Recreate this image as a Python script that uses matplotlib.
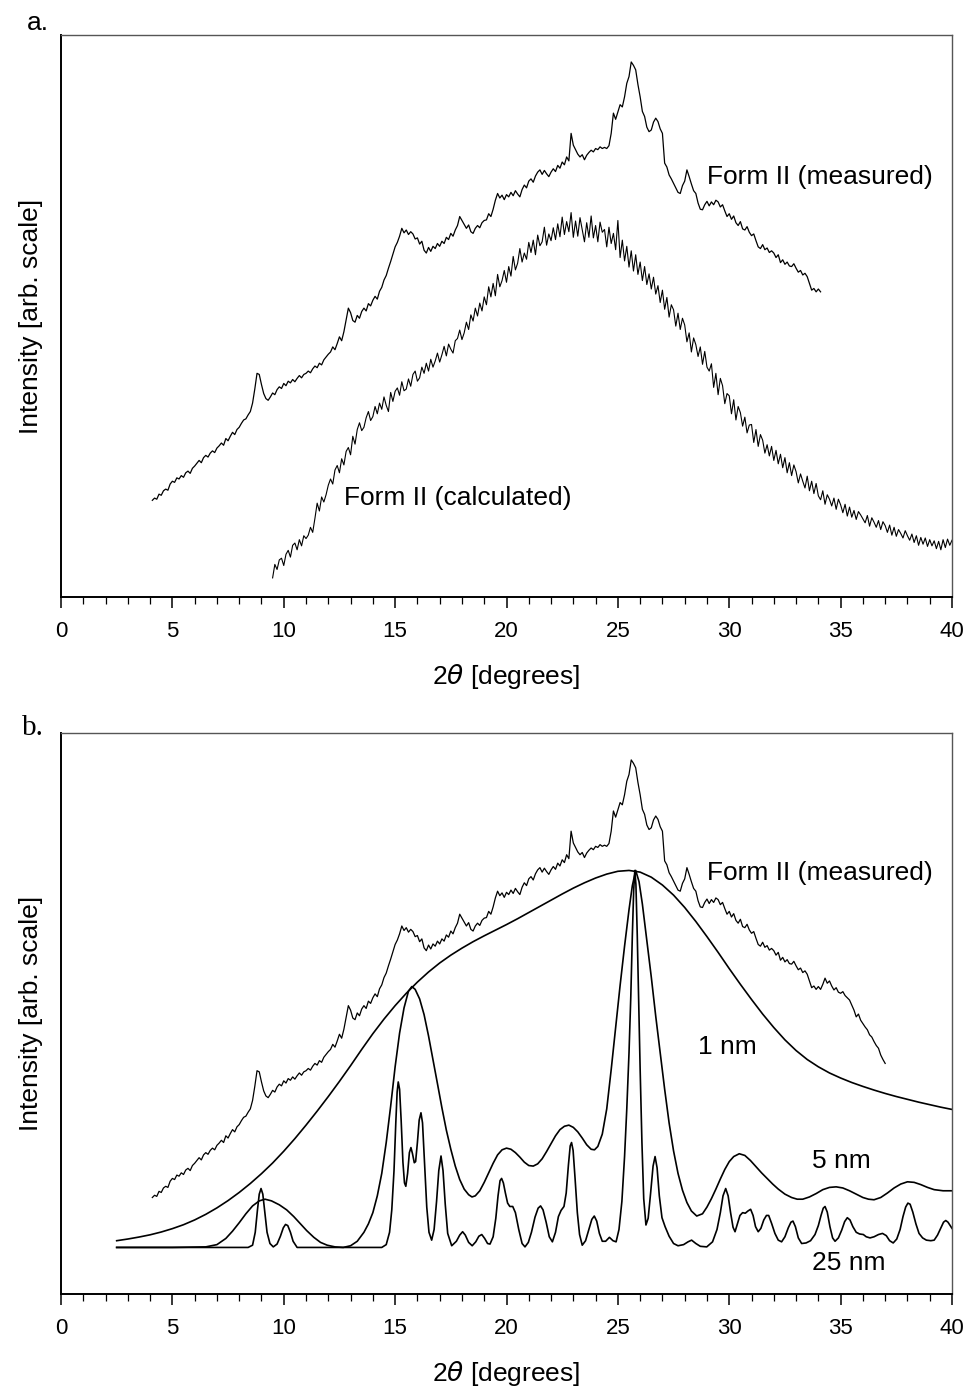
import numpy as np
import matplotlib.pyplot as plt

# 2-theta scan grids (0.1 degree steps)
theta_meas = np.round(np.arange(41, 371) / 10, 1)      # 4.1 .. 37.0
theta_calc = np.round(np.arange(95, 401) / 10, 1)      # 9.5 .. 40.0

# Form II measured pattern, arbitrary units (0 = axis, 100 = top of frame)
meas = [
    17.2, 17.6, 17.4, 18.3, 18.1, 18.9, 19.2, 19.0, 20.1, 20.6,
    20.4, 21.2, 21.0, 21.6, 21.3, 22.1, 22.4, 22.0, 22.9, 23.3,
    23.8, 24.3, 23.9, 24.8, 25.2, 24.9, 25.6, 26.0, 25.7, 26.5,
    26.9, 27.4, 27.0, 28.2, 27.8, 28.6, 29.3, 28.9, 29.8, 30.2,
    30.9, 31.5, 31.7, 32.4, 33.0, 34.5, 37.0, 39.8, 39.6, 37.8,
    36.2, 35.3, 35.0, 35.6, 36.3, 36.0, 36.9, 37.4, 37.1, 38.0,
    37.6, 38.4, 38.1, 38.7, 38.3, 38.9, 39.4, 39.0, 39.6, 39.8,
    40.2, 39.9, 40.6, 41.1, 40.8, 41.6, 41.3, 42.2, 42.7, 43.2,
    43.6, 44.5, 44.0, 45.1, 46.3, 45.6, 47.2, 49.3, 51.4, 50.6,
    49.2, 48.9, 50.1, 49.6, 50.8, 51.4, 50.9, 52.2, 51.8, 52.8,
    53.5, 53.0, 54.4, 55.1, 56.4, 57.2, 58.5, 59.7, 61.0, 62.3,
    63.1, 64.2, 65.6, 64.8, 65.3, 64.5, 65.0, 64.6, 63.7, 63.9,
    62.8, 63.3, 61.7, 61.2, 62.2, 61.5, 62.4, 62.0, 62.9, 62.4,
    63.3, 62.9, 64.0, 63.6, 64.7, 64.2, 65.3, 66.1, 67.7, 67.0,
    66.3, 65.6, 66.2, 65.0, 64.7, 65.6, 66.1, 65.7, 66.6, 67.0,
    67.1, 68.2, 67.7, 69.0, 70.6, 71.8, 71.0, 71.5, 70.7, 71.6,
    71.2, 72.0, 71.4, 72.3, 71.7, 71.2, 72.5, 73.3, 72.8, 74.0,
    74.4, 73.8, 74.9, 75.6, 76.0, 75.2, 75.9, 75.3, 74.8, 75.6,
    76.2, 75.7, 76.8, 76.3, 77.4, 76.9, 78.3, 77.6, 82.5, 80.4,
    79.6, 78.8, 78.3, 78.7, 77.8, 78.6, 79.1, 79.5, 79.2, 79.8,
    79.6, 80.1, 79.8, 80.0, 79.8, 80.3, 82.5, 86.1, 85.0, 86.3,
    87.6, 87.2, 89.0, 91.4, 92.6, 95.2, 94.6, 93.8, 91.2, 89.0,
    86.4, 85.5, 83.6, 82.8, 83.1, 84.5, 85.2, 84.6, 83.3, 82.5,
    77.2, 76.5, 75.1, 74.4, 73.6, 72.8, 72.0, 71.8, 73.2, 74.0,
    76.0, 74.8, 73.5, 72.3, 71.8, 70.1, 69.0, 68.9, 69.8, 70.4,
    69.6, 70.3, 69.8, 70.6, 70.3, 69.4, 69.8, 68.7, 67.7, 68.2,
    67.2, 67.8, 66.6, 66.1, 66.8, 65.5, 65.3, 65.9, 64.9, 64.3,
    64.6, 63.4, 62.3, 62.0, 62.7, 61.8, 62.1, 61.3, 61.6, 61.2,
    60.4, 60.9, 59.5, 60.0, 59.2, 59.6, 58.9, 58.8, 59.3, 58.5,
    57.8, 58.1, 57.3, 57.6, 57.0, 55.8, 54.6, 54.9, 54.3, 54.8,
    54.3, 55.2, 56.3, 55.4, 55.8, 54.9, 54.2, 54.6, 53.8, 53.6,
    53.9, 53.2, 52.8, 52.4, 51.5, 50.6, 49.4, 49.9, 48.8, 48.2,
    47.6, 47.1, 46.2, 45.8, 45.0, 44.3, 43.8, 42.6, 41.8, 41.1,
]

# Form II calculated pattern
calc = [
    3.4, 5.8, 4.9, 6.6, 6.9, 5.6,
    7.6, 8.3, 7.1, 9.2, 9.6, 8.4, 10.2, 9.1, 10.9, 10.4,
    11.0, 12.4, 11.5, 14.0, 16.7, 15.3, 17.8, 16.9, 18.2, 19.9,
    21.0, 20.1, 22.6, 23.4, 22.1, 24.6, 23.5, 25.9, 26.6, 25.3,
    28.6, 27.2, 29.8, 31.0, 29.6, 30.2, 31.9, 33.0, 31.4, 32.1,
    33.9, 32.6, 34.5, 33.4, 35.6, 34.1, 33.0, 36.4, 34.8, 36.6,
    37.2, 35.9, 38.3, 36.7, 37.0, 38.8, 37.5, 39.6, 40.2, 38.4,
    39.0, 40.9, 39.8, 41.6, 40.2, 42.3, 40.9, 42.0, 43.4, 41.8,
    43.1, 44.6, 42.9, 45.0, 44.1, 43.4, 45.6, 46.0, 47.5, 45.8,
    47.0, 48.9, 47.6, 50.2, 49.1, 51.4, 50.0, 52.3, 50.9, 53.4,
    52.0, 55.2, 53.4, 55.8, 53.6, 57.4, 55.2, 56.3, 58.1, 56.0,
    58.8, 57.1, 60.6, 58.2, 59.4, 62.0, 59.6, 61.2, 60.1, 63.1,
    61.3, 63.5, 60.9, 64.4, 62.5, 63.2, 65.8, 62.6, 64.6, 63.4,
    65.7, 63.6, 66.4, 64.1, 67.6, 64.5, 66.8, 65.0, 68.4, 64.0,
    66.9, 64.2, 67.5, 65.3, 63.2, 66.6, 64.0, 67.8, 63.9, 66.1,
    63.2, 66.7, 64.9, 65.4, 62.3, 65.8, 62.9, 64.7, 61.8, 67.0,
    60.4, 63.5, 59.8, 62.4, 58.7, 61.6, 58.0, 60.9, 57.4, 59.6,
    56.3, 58.8, 55.6, 57.5, 54.8, 56.9, 53.9, 55.4, 52.4, 54.6,
    51.2, 53.3, 49.8, 52.0, 51.1, 48.2, 50.5, 47.6, 49.6, 48.4,
    45.4, 47.0, 43.6, 46.1, 44.9, 42.8, 44.5, 41.4, 43.7, 40.9,
    40.2, 41.5, 37.3, 39.8, 36.0, 38.9, 37.6, 34.4, 36.2, 35.8,
    32.6, 35.1, 31.5, 33.9, 32.8, 30.4, 32.0, 29.2, 30.6, 30.7,
    27.5, 29.8, 26.8, 28.9, 27.9, 25.6, 27.1, 25.1, 26.8, 24.3,
    26.1, 23.7, 25.4, 23.0, 24.8, 22.1, 23.9, 21.6, 23.5, 22.3,
    20.3, 21.9, 20.6, 19.4, 21.5, 18.9, 20.6, 18.4, 20.2, 18.0,
    17.3, 18.9, 16.5, 18.2, 17.4, 16.2, 17.6, 15.6, 17.4, 16.4,
    15.0, 16.5, 14.4, 16.0, 14.2, 15.4, 13.8, 15.2, 14.6, 13.9,
    13.2, 14.5, 12.6, 14.1, 13.3, 12.4, 13.6, 12.0, 13.4, 12.7,
    11.5, 12.8, 11.0, 12.4, 10.8, 12.0, 11.3, 10.5, 11.8, 10.9,
    10.1, 11.2, 9.7, 10.9, 9.2, 10.6, 9.4, 10.5, 9.0, 10.2,
    9.1, 10.0, 8.6, 9.9, 8.4, 10.2, 8.8, 10.3, 9.2, 10.1,
]

# simulated patterns for three crystallite sizes
x_1nm = np.arange(2.5, 40.01, 0.5)
y_1nm = [9.5, 9.8, 10.15, 10.55, 11.05, 11.65, 12.35, 13.2, 14.2, 15.35,
         16.65, 18.1, 19.7, 21.45, 23.35, 25.45, 27.7, 30.1, 32.6, 35.2,
         37.9, 40.7, 43.6, 46.4, 49.0, 51.4, 53.6, 55.6, 57.4, 59.0,
         60.4, 61.65, 62.8, 63.85, 64.85, 65.85, 66.9, 68.0, 69.1, 70.2,
         71.3, 72.35, 73.3, 74.15, 74.85, 75.35, 75.5, 75.2, 74.3, 72.9,
         71.1, 68.9, 66.4, 63.7, 60.9, 58.0, 55.2, 52.5, 49.9, 47.5,
         45.3, 43.4, 41.8, 40.5, 39.4, 38.5, 37.7, 37.0, 36.35, 35.75,
         35.2, 34.7, 34.2, 33.75, 33.3, 32.9]

x_5nm = [2.5, 5.0, 6.5, 7.0, 7.4, 7.7, 8.0, 8.3, 8.6, 8.9,
         9.16, 9.45, 9.8, 10.13, 10.45, 10.75, 11.03, 11.35, 11.65, 11.95,
         12.3, 12.67, 13.0, 13.3, 13.6, 13.8, 14.0, 14.2, 14.4, 14.6,
         14.8, 15.0, 15.2, 15.4, 15.6, 15.75, 15.9, 16.1, 16.3, 16.5,
         16.7, 16.9, 17.1, 17.3, 17.5, 17.7, 17.9, 18.1, 18.3, 18.45,
         18.6, 18.8, 19.0, 19.2, 19.4, 19.6, 19.8, 20.0, 20.2, 20.4,
         20.6, 20.8, 21.0, 21.2, 21.4, 21.6, 21.8, 22.0, 22.2, 22.4,
         22.6, 22.8, 23.0, 23.2, 23.4, 23.6, 23.8, 23.95, 24.1, 24.3,
         24.5, 24.7, 24.9, 25.1, 25.3, 25.5, 25.65, 25.8, 25.95, 26.1,
         26.3, 26.5, 26.7, 26.9, 27.1, 27.3, 27.5, 27.7, 27.9, 28.1,
         28.3, 28.54, 28.8, 29.0, 29.2, 29.4, 29.6, 29.8, 30.0, 30.2,
         30.45, 30.7, 30.95, 31.2, 31.45, 31.7, 31.95, 32.2, 32.5, 32.8,
         33.05, 33.3, 33.6, 33.9, 34.2, 34.5, 34.8, 35.1, 35.4, 35.7,
         36.0, 36.25, 36.5, 36.8, 37.1, 37.4, 37.7, 38.0, 38.3, 38.6,
         38.9, 39.2, 39.6, 40.0]
y_5nm = [8.3, 8.3, 8.4, 8.8, 9.9, 11.2, 12.7, 14.3, 15.7, 16.6,
         16.9, 16.6, 15.9, 15.0, 13.8, 12.5, 11.3, 10.1, 9.2, 8.7,
         8.4, 8.3, 8.6, 9.4, 11.0, 12.5, 14.5, 17.5, 21.5, 27.0,
         33.5, 40.5, 46.5, 51.0, 54.0, 54.8, 54.3, 52.6, 49.8, 46.0,
         41.8, 37.5, 33.2, 29.2, 25.8, 22.8, 20.4, 18.7, 17.7, 17.3,
         17.5, 18.4, 19.9, 21.6, 23.3, 24.8, 25.7, 26.0, 25.8, 25.2,
         24.4, 23.5, 22.9, 22.8, 23.2, 24.1, 25.4, 26.8, 28.2, 29.3,
         29.9, 30.1, 29.7, 28.9, 27.8, 26.6, 25.8, 25.7, 26.3, 28.5,
         33.0, 40.0, 47.5, 55.0, 62.0, 68.5, 72.8, 75.5, 73.5, 69.5,
         63.0, 56.5, 49.5, 43.0, 36.5, 30.5, 25.5, 21.5, 18.5, 16.3,
         14.8, 13.9, 14.3, 15.5, 17.0, 18.7, 20.5, 22.2, 23.6, 24.5,
         25.0, 24.7, 23.8, 22.7, 21.6, 20.6, 19.6, 18.7, 17.8, 17.2,
         16.9, 16.9, 17.3, 17.9, 18.6, 19.0, 19.1, 18.9, 18.4, 17.8,
         17.2, 16.9, 16.8, 17.2, 18.0, 18.9, 19.6, 20.0, 19.9, 19.5,
         19.0, 18.6, 18.4, 18.4]

x_25nm = [2.5, 8.4, 8.6, 8.72, 8.82, 8.9, 8.98, 9.06, 9.15, 9.25,
          9.38, 9.53, 9.7, 9.85, 9.98, 10.08, 10.18, 10.3, 10.42, 10.6,
          14.4, 14.6, 14.75, 14.85, 14.95, 15.03, 15.09, 15.14, 15.2, 15.27,
          15.35, 15.42, 15.48, 15.56, 15.64, 15.71, 15.78, 15.86, 15.92, 16.0,
          16.08, 16.16, 16.23, 16.32, 16.42, 16.52, 16.64, 16.75, 16.86, 16.96,
          17.06, 17.15, 17.25, 17.36, 17.54, 17.75, 17.9, 18.03, 18.15, 18.3,
          18.46, 18.62, 18.76, 18.89, 19.02, 19.15, 19.26, 19.4, 19.52, 19.62,
          19.71, 19.78, 19.86, 19.95, 20.05, 20.15, 20.28, 20.4, 20.55, 20.7,
          20.83, 20.98, 21.12, 21.28, 21.42, 21.53, 21.64, 21.78, 21.92, 22.06,
          22.2, 22.33, 22.45, 22.58, 22.68, 22.78, 22.86, 22.92, 22.99, 23.08,
          23.18, 23.28, 23.4, 23.55, 23.7, 23.83, 23.94, 24.05, 24.17, 24.3,
          24.45, 24.62, 24.78, 24.92, 25.05, 25.18, 25.3, 25.4, 25.5, 25.58,
          25.65, 25.71, 25.76, 25.81, 25.87, 25.93, 26.0, 26.08, 26.16, 26.26,
          26.36, 26.47, 26.58, 26.67, 26.76, 26.86, 26.98, 27.12, 27.3, 27.5,
          27.7, 27.95, 28.15, 28.31, 28.5, 28.7, 28.99, 29.25, 29.45, 29.6,
          29.72, 29.84, 29.95, 30.06, 30.17, 30.26, 30.36, 30.48, 30.6, 30.72,
          30.84, 30.96, 31.07, 31.18, 31.3, 31.42, 31.55, 31.67, 31.77, 31.9,
          32.05, 32.2, 32.35, 32.5, 32.65, 32.77, 32.86, 32.97, 33.1, 33.25,
          33.45, 33.65, 33.85, 34.0, 34.12, 34.22, 34.3, 34.4, 34.52, 34.64,
          34.75, 34.9, 35.05, 35.18, 35.3, 35.42, 35.55, 35.7, 35.85, 36.02,
          36.15, 36.32, 36.5, 36.7, 36.88, 37.05, 37.2, 37.36, 37.52, 37.67,
          37.8, 37.92, 38.02, 38.12, 38.24, 38.38, 38.52, 38.68, 38.85, 39.05,
          39.2, 39.35, 39.5, 39.62, 39.72, 39.82, 39.92, 40.0]
y_25nm = [8.3, 8.3, 8.7, 11.0, 15.0, 17.8, 18.8, 17.8, 14.5, 11.0,
          9.0, 8.4, 8.9, 10.3, 11.8, 12.4, 12.2, 11.0, 9.4, 8.3,
          8.3, 8.8, 11.0, 15.0, 22.0, 30.5, 36.0, 37.8, 36.5, 31.0,
          23.5, 19.8, 19.2, 21.5, 25.2, 26.1, 25.0, 23.4, 23.6, 27.0,
          31.0, 32.3, 30.5, 23.5, 15.5, 11.0, 9.6, 11.5, 16.5, 22.0,
          24.6, 22.0, 16.0, 10.8, 8.6, 9.4, 10.5, 11.1, 10.5, 9.2,
          8.6, 9.3, 10.3, 10.6, 9.9, 9.0, 8.9, 10.2, 13.5, 17.5,
          20.2, 20.6, 19.8, 18.0, 16.2, 15.6, 15.6, 14.5, 11.5, 9.0,
          8.4, 9.2, 11.0, 13.7, 15.3, 15.7, 15.0, 12.8, 10.2, 9.3,
          11.0, 13.8, 14.9, 15.6, 18.0, 23.0, 26.4, 27.0, 25.6, 20.5,
          14.5, 10.6, 8.7, 9.5, 11.5, 13.3, 13.9, 13.0, 10.8, 9.4,
          9.4, 10.1, 9.5, 9.3, 11.5, 16.5, 24.5, 33.0, 43.0, 53.0,
          64.0, 72.0, 75.5, 73.0, 64.0, 53.0, 40.0, 27.0, 17.0, 12.3,
          13.5, 18.0, 22.8, 24.5, 22.5, 17.5, 13.6, 12.0, 10.3, 9.0,
          8.6, 8.8, 9.3, 9.6, 9.0, 8.5, 8.4, 9.3, 11.5, 14.5,
          17.5, 18.8, 17.5, 14.5, 11.9, 11.1, 12.4, 14.0, 14.5, 14.4,
          14.8, 15.1, 14.0, 12.0, 11.1, 11.7, 13.2, 14.0, 14.0, 12.6,
          10.8, 9.6, 9.3, 10.2, 11.8, 12.8, 13.0, 12.0, 10.0, 9.0,
          9.1, 9.5, 10.6, 12.2, 14.0, 15.3, 15.6, 14.6, 12.0, 10.0,
          9.4, 10.0, 11.4, 12.9, 13.6, 13.2, 12.0, 11.0, 10.7, 10.6,
          10.2, 10.0, 10.2, 10.6, 10.8, 10.4, 9.5, 9.1, 9.8, 11.5,
          13.8, 15.5, 16.2, 16.0, 14.6, 12.5, 10.8, 10.0, 9.6, 9.5,
          9.6, 10.5, 11.8, 12.8, 13.1, 12.8, 12.2, 11.7]

plt.rcParams['font.family'] = ['Liberation Sans', 'DejaVu Sans']
plt.rcParams['mathtext.fontset'] = 'dejavusans'

fig = plt.figure(figsize=(9.67, 13.87), dpi=100)
ax_a = fig.add_axes([61 / 967, 1 - 597 / 1387, 891 / 967, 562 / 1387])
ax_b = fig.add_axes([61 / 967, 1 - 1294 / 1387, 891 / 967, 561 / 1387])


def style_axes(ax):
    ax.set_xlim(0, 40)
    ax.set_ylim(0, 100)
    ax.set_xticks(range(0, 41, 5))
    ax.set_xticks(range(0, 41, 1), minor=True)
    ax.set_yticks([])
    ax.tick_params(axis='x', which='major', direction='out', length=8, width=1.1,
                   labelsize=16, pad=9)
    ax.tick_params(axis='x', which='minor', direction='out', length=5, width=0.9)
    for side in ['left', 'bottom']:
        ax.spines[side].set_linewidth(1.4)
        ax.spines[side].set_color('black')
    for side in ['top', 'right']:
        ax.spines[side].set_linewidth(1.0)
        ax.spines[side].set_color('#555555')
    ax.set_xlabel(r'2$\theta$ [degrees]', fontsize=19, labelpad=15)
    ax.set_ylabel('Intensity [arb. scale]', fontsize=19, labelpad=13)


# panel a
a_mask = theta_meas <= 34.1
ax_a.plot(theta_meas[a_mask], np.array(meas)[a_mask], color='black', lw=0.9)
ax_a.plot(theta_calc, calc, color='black', lw=0.8)
ax_a.text(29.0, 74.7, 'Form II (measured)', fontsize=19, va='center', ha='left')
ax_a.text(12.7, 17.6, 'Form II (calculated)', fontsize=19, va='center', ha='left')
style_axes(ax_a)

# panel b
ax_b.plot(theta_meas, meas, color='black', lw=0.9)
ax_b.plot(x_1nm, y_1nm, color='black', lw=1.2)
ax_b.plot(x_5nm, y_5nm, color='black', lw=1.2)
ax_b.plot(x_25nm, y_25nm, color='black', lw=1.2)
ax_b.text(29.0, 75.0, 'Form II (measured)', fontsize=19, va='center', ha='left')
ax_b.text(28.6, 44.0, '1 nm', fontsize=19, va='center', ha='left')
ax_b.text(33.7, 23.7, '5 nm', fontsize=19, va='center', ha='left')
ax_b.text(33.7, 5.5, '25 nm', fontsize=19, va='center', ha='left')
style_axes(ax_b)

fig.text(27 / 967, 1 - 30 / 1387, 'a.', fontsize=19, va='baseline', ha='left')
fig.text(22 / 967, 1 - 735 / 1387, 'b.', fontsize=21, va='baseline', ha='left',
         family='Liberation Serif')

fig.savefig('out.png', dpi=100)
